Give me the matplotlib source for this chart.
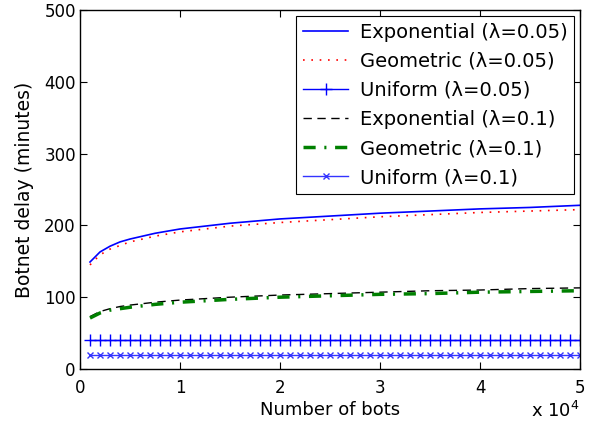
import matplotlib
matplotlib.use("Agg")
import matplotlib.pyplot as plt
import numpy as np

plt.rcParams['font.family'] = ['DejaVu Sans']

x = [1000, 2000, 3000, 4000, 5000, 7500, 10000, 15000, 20000, 25000,
     30000, 35000, 40000, 45000, 50000]
exp05 = [149, 163, 171, 177, 181, 189, 195, 203, 209, 213, 217, 220, 223, 225, 228]
geo05 = [145, 159, 167, 172, 177, 185, 191, 199, 204, 208, 212, 215, 218, 220, 222]
exp01 = [73, 80, 84, 87, 89, 93, 96, 100, 103, 105, 107, 109, 110, 112, 113]
geo01 = [71, 78, 82, 84, 86, 90, 93, 97, 100, 102, 104, 105, 107, 108, 109]
xu = list(range(1000, 50001, 1000))
uni05 = [40] * len(xu)
uni01 = [20] * len(xu)

fig = plt.figure(figsize=(5.98, 4.34), dpi=100)
ax = fig.add_axes([80/598, 1-369/434, 500/598, 359/434])

ax.plot(x, exp05, color='#0000ff', lw=1.2, label='Exponential (λ=0.05)')
ax.plot(x, geo05, color='#ff0000', lw=1.2, ls=(0, (1, 4)), label='Geometric (λ=0.05)')
ax.plot(xu, uni05, color='#0000ff', lw=1.0, marker='+', ms=9, mew=1.0, label='Uniform (λ=0.05)')
ax.plot(x, exp01, color='black', lw=1.0, ls=(0, (6, 4)), label='Exponential (λ=0.1)')
ax.plot(x, geo01, color='#008000', lw=2.5, ls=(0, (3.5, 2.5, 0.6, 2.5)), label='Geometric (λ=0.1)')
ax.plot(xu, uni01, color='#3333ff', lw=1.0, marker='x', ms=5, mew=1.0, label='Uniform (λ=0.1)')

ax.set_xlim(0, 50000)
ax.set_ylim(0, 500)
ax.set_xticks([0, 10000, 20000, 30000, 40000, 50000])
ax.set_xticklabels(['0', '1', '2', '3', '4', '5'])
ax.set_yticks([0, 100, 200, 300, 400, 500])
ax.tick_params(direction='in', labelsize=12, top=True, right=True, length=5)
ax.tick_params(axis='x', pad=7)
ax.tick_params(axis='y', pad=3)
for s in ax.spines.values():
    s.set_linewidth(1.0)
ax.set_xlabel('Number of bots', fontsize=13, labelpad=3)
ax.set_ylabel('Botnet delay (minutes)', fontsize=13.5, labelpad=7)
ax.text(1.0, -0.09, r'x 10$^4$', transform=ax.transAxes, ha='right', va='top', fontsize=13)

leg = ax.legend(loc='upper right', fontsize=14, frameon=True, fancybox=False,
                edgecolor='black', framealpha=1, borderaxespad=0.3,
                handlelength=2.3, handletextpad=0.6, labelspacing=0.52, borderpad=0.35)
leg.get_frame().set_linewidth(0.8)

fig.savefig('out.png', dpi=100)
